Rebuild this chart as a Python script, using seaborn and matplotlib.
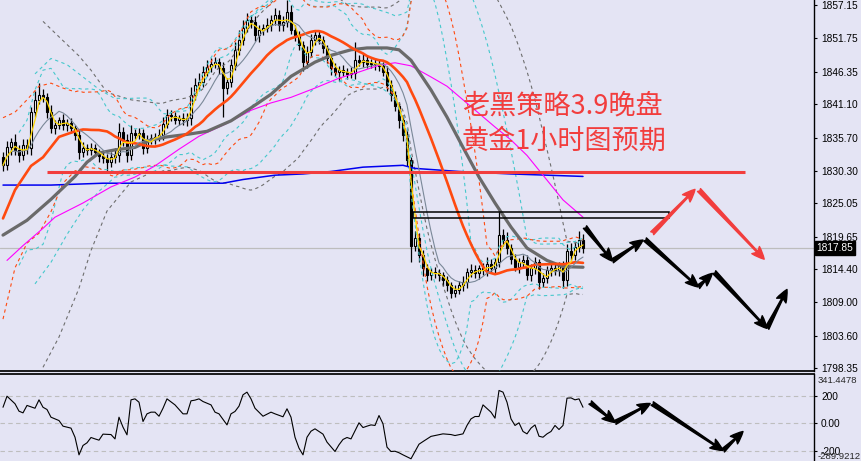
import numpy as np
import pandas as pd
import matplotlib
matplotlib.use("Agg")
import matplotlib.pyplot as plt
import matplotlib.transforms as mtransforms
from matplotlib.patches import FancyArrowPatch, Rectangle
import seaborn as sns

# ---- XAUUSD H1 candles (close, wick lengths in $) ----
closes = [
    1831.2, 1834.1, 1835.0, 1833.7, 1832.8, 1834.5, 1834.0, 1839.8, 1841.8, 1842.6,
    1842.2, 1839.8, 1837.2, 1837.7, 1838.5, 1837.7, 1838.0, 1837.2, 1836.1, 1833.3,
    1834.0, 1833.7, 1834.0, 1833.3, 1832.7, 1832.4, 1831.7, 1832.5, 1832.8, 1836.6,
    1835.3, 1832.8, 1836.4, 1836.1, 1836.4, 1834.0, 1835.3, 1835.6, 1835.8, 1836.1,
    1837.9, 1839.3, 1839.2, 1838.5, 1838.8, 1838.5, 1838.8, 1842.6, 1844.2, 1844.7,
    1846.3, 1847.1, 1847.6, 1847.9, 1847.0, 1843.7, 1844.7, 1847.4, 1849.9, 1851.5,
    1853.4, 1854.7, 1854.4, 1852.3, 1853.1, 1853.4, 1853.9, 1854.7, 1855.5, 1853.9,
    1854.4, 1856.0, 1853.1, 1852.3, 1850.7, 1847.9, 1849.5, 1851.5, 1852.3, 1851.5,
    1850.2, 1848.6, 1847.0, 1846.3, 1846.6, 1846.3, 1846.0, 1846.1, 1848.2, 1847.9,
    1848.2, 1847.6, 1847.8, 1847.6, 1847.3, 1846.3, 1844.2, 1842.6, 1840.8, 1838.5,
    1836.1, 1832.0, 1818.2, 1819.4, 1816.6, 1814.5, 1813.4, 1813.9, 1813.7, 1813.4,
    1812.6, 1811.8, 1810.6, 1811.0, 1811.8, 1812.3, 1813.9, 1814.2, 1813.7, 1814.5,
    1814.2, 1815.2, 1814.5, 1815.5, 1819.9, 1819.1, 1817.8, 1816.1, 1814.8, 1815.5,
    1815.8, 1813.4, 1814.5, 1815.5, 1812.3, 1812.9, 1814.2, 1814.5, 1814.2, 1815.0,
    1812.6, 1817.4, 1816.6, 1818.0, 1819.1, 1817.85,
]
first_open = 1832.5
upper_wick = [
    0.8, 1.0, 0.6, 1.2, 0.8, 0.9, 1.0, 0.8, 1.5, 1.9,
    0.9, 0.7, 1.1, 0.8, 0.6, 1.0, 0.7, 0.9, 0.6, 0.8,
    0.9, 0.6, 0.8, 0.7, 0.6, 0.9, 0.7, 0.8, 1.2, 1.5,
    0.8, 1.0, 1.3, 0.7, 0.9, 0.6, 0.8, 0.7, 0.6, 0.9,
    1.2, 1.0, 0.8, 0.7, 0.6, 0.9, 0.8, 1.3, 1.1, 1.4,
    0.9, 1.2, 1.0, 0.8, 0.7, 0.9, 0.6, 1.0, 1.3, 1.6,
    1.4, 1.2, 0.9, 1.0, 0.8, 0.7, 1.1, 0.9, 1.2, 0.8,
    1.0, 1.9, 1.2, 0.8, 0.7, 0.6, 1.0, 0.9, 0.8, 0.6,
    0.7, 0.5, 0.6, 0.8, 0.7, 0.9, 0.6, 1.0, 3.0, 0.8,
    1.2, 0.7, 0.6, 0.8, 0.7, 0.6, 0.9, 0.8, 0.7, 0.6,
    0.8, 0.9, 0.6, 1.2, 0.8, 0.9, 0.7, 0.6, 0.8, 0.7,
    0.6, 0.7, 0.5, 0.8, 0.6, 0.9, 0.7, 1.0, 0.8, 0.6,
    0.9, 1.1, 0.8, 0.7, 4.4, 1.0, 1.3, 0.6, 0.8, 0.7,
    0.9, 0.8, 0.7, 0.9, 0.6, 0.8, 0.7, 0.9, 0.8, 0.6,
    0.7, 1.0, 1.2, 0.8, 1.5, 0.9,
]
lower_wick = [
    1.0, 0.8, 1.2, 0.9, 1.1, 0.7, 0.9, 1.2, 0.8, 0.7,
    0.8, 0.9, 0.7, 1.0, 0.6, 0.8, 0.9, 0.7, 0.8, 1.1,
    0.7, 0.9, 0.8, 0.6, 1.0, 0.8, 1.4, 0.7, 0.9, 1.0,
    0.9, 1.1, 0.8, 0.7, 0.6, 0.9, 0.8, 0.7, 1.0, 0.6,
    0.8, 0.7, 0.9, 0.6, 0.8, 0.7, 0.9, 1.0, 0.8, 0.7,
    0.9, 0.6, 0.8, 0.7, 1.0, 4.7, 0.9, 0.8, 0.7, 0.9,
    0.8, 0.7, 1.0, 0.9, 1.2, 0.8, 0.7, 0.9, 0.8, 1.0,
    0.9, 0.8, 0.7, 0.9, 0.8, 1.4, 0.9, 0.7, 0.8, 0.6,
    0.8, 0.9, 1.2, 0.7, 1.4, 0.6, 0.8, 0.7, 0.9, 0.7,
    0.8, 0.6, 0.7, 0.9, 0.8, 0.7, 0.9, 1.0, 0.8, 1.2,
    1.0, 0.9, 2.7, 0.8, 1.0, 1.2, 0.9, 0.8, 0.7, 0.9,
    1.0, 0.9, 0.9, 0.8, 0.7, 0.9, 1.0, 0.8, 0.7, 0.9,
    0.8, 1.0, 0.7, 0.9, 0.8, 1.0, 0.9, 0.8, 0.7, 1.0,
    0.9, 0.8, 1.0, 0.9, 1.2, 0.8, 0.7, 0.9, 0.8, 1.0,
    1.3, 0.9, 0.8, 0.7, 0.9, 0.8,
]

# slow averages: their history is off-screen, so they are read at a few bars
ma20_left_bar = [0, 3, 7, 10, 14, 18]
ma20_left_val = [1822.6, 1827.2, 1831.1, 1832.5, 1835.8, 1836.7]
ma_gray_bar = [0, 6, 12, 18, 21, 24, 28, 33, 37, 41, 46, 51, 57, 62, 67, 72, 78,
               82, 87, 91, 96, 99, 102, 104, 107, 111, 115, 119, 123, 127, 131,
               136, 140, 145]
ma_gray_val = [1819.9, 1822.3, 1825.7, 1829.4, 1831.7, 1833.2, 1833.7, 1834.1,
               1835.3, 1835.8, 1836.2, 1836.7, 1838.4, 1840.5, 1842.7, 1845.6,
               1847.9, 1849.0, 1849.9, 1850.2, 1850.2, 1849.9, 1848.2, 1846.3,
               1843.4, 1839.0, 1834.1, 1829.3, 1825.1, 1821.2, 1817.8, 1815.8,
               1814.8, 1814.7]
ma_magenta_bar = [1, 5, 10, 13, 20, 27, 33, 38, 44, 49, 56, 62, 67, 72, 78, 84,
                  89, 94, 98, 102, 107, 111, 115, 119, 123, 127, 131, 136, 140, 145]
ma_magenta_val = [1815.8, 1818.2, 1821.0, 1822.8, 1825.1, 1827.7, 1829.3, 1831.1,
                  1833.8, 1835.9, 1838.0, 1840.1, 1841.3, 1842.2, 1843.7, 1845.3,
                  1846.3, 1847.4, 1847.8, 1847.3, 1845.5, 1844.0, 1841.8, 1839.6,
                  1837.4, 1835.3, 1832.8, 1828.8, 1825.6, 1822.8]
ma_blue_bar = [0, 12, 25, 40, 55, 60, 68, 75, 82, 90, 100, 103, 114, 127, 145]
ma_blue_val = [1828.0, 1828.0, 1828.3, 1828.3, 1828.3, 1828.9, 1829.6, 1829.8,
               1830.2, 1830.9, 1831.2, 1830.7, 1830.2, 1829.8, 1829.4]

# Bollinger bands before their window fills, read at a few bars
bb20_left_bar = [0, 3, 6, 9, 12, 15, 18]
bb20_left_up = [1838.9, 1839.8, 1841.8, 1844.0, 1844.5, 1843.7, 1843.1]
bb20_left_lo = [1806.3, 1814.6, 1818.6, 1820.2, 1823.7, 1828.3, 1830.3]
bb16_left_bar = [4, 6, 8, 10, 12, 14]
bb16_left_up = [1836.5, 1838.5, 1843.4, 1846.6, 1846.9, 1845.0]
bb16_left_lo = [1815.0, 1817.5, 1817.6, 1818.4, 1822.1, 1827.6]
bb30_left_bar = [8, 12, 16, 20, 24, 28]
bb30_left_up = [1846.0, 1848.5, 1847.5, 1845.5, 1843.5, 1842.0]
bb30_left_lo = [1812.0, 1815.5, 1820.0, 1824.0, 1827.0, 1829.3]
bb40_left_bar = [10, 14, 19, 22, 26, 32, 38]
bb40_left_up = [1854.5, 1852.0, 1848.9, 1846.6, 1843.0, 1841.8, 1841.3]
bb40_left_lo = [1798.5, 1803.4, 1811.3, 1817.4, 1823.8, 1828.5, 1830.3]

# CCI sub window
cci_bar = [0, 1, 3, 4, 5, 6, 8, 9, 10, 11, 12, 13, 14, 15, 17, 18, 19, 20, 21, 22,
           23, 24, 25, 27, 28, 29, 30, 31, 32, 33, 34, 35, 36, 37, 38, 39, 40, 41, 43, 45,
           46, 47, 48, 49, 50, 52, 53, 54, 56, 57, 58, 59, 60, 61, 62, 63, 64, 65, 67, 68,
           70, 71, 72, 73, 74, 75, 76, 77, 78, 79, 80, 81, 83, 84, 85, 86, 87, 89, 90, 91,
           92, 93, 94, 95, 96, 97, 98, 99, 100, 102, 103, 104, 105, 107, 108, 110, 112, 113,
           115, 116, 117, 118, 119, 120, 122, 123, 124, 125, 126, 127, 128, 129, 130, 131,
           132, 133, 134, 135, 136, 137, 138, 139, 140, 141, 142, 143, 144, 145]
cci_val = [116, 195, 141, 88, 76, 129, 109, 169, 116, 100, 45, 33, 21, -19, -33, -98,
           -224, -157, -138, -100, -110, -119, -76, -79, -110, 45, -26, -81, 169, 176,
           152, 14, 69, 81, 81, 52, 109, 176, 133, 69, 69, 162, 167, 176, 157, 133, 81,
           69, -10, 69, 86, 124, 205, 224, 176, 109, 81, 52, 81, 69, 48, 105, 45, -98,
           -176, -224, -98, -55, -38, -57, -76, -133, -200, -152, -114, -100, -110, 5,
           -29, -19, -10, -14, 57, -2, -169, -200, -198, -209, -224, -252, -200, -148,
           -129, -92, -86, -74, -79, -86, -74, -14, 33, 50, 50, 133, 81, 38, 236, 224,
           152, 33, -14, 5, -57, -74, -33, -10, -91, -98, -74, -57, -14, -43, -14, 181,
           183, 169, 176, 116]
cci_levels = [200, 0, -200]
cci_max, cci_min = 341.4478, -289.9212

price_ticks = [1857.15, 1851.75, 1846.35, 1841.10, 1835.70, 1830.30, 1825.05,
               1819.65, 1814.40, 1809.00, 1803.60, 1798.35]
last_price = 1817.85
support_price, support_bars = 1830.1, (11, 185.5)
box_bars, box_prices = (102.5, 166.5), (1822.65, 1823.65)

# hand drawn forecast arrows (bar, price) / (bar, cci)
fc_black_from = [(145.5, 1821.2), (152.3, 1815.7), (160.5, 1819.2),
                 (173.8, 1811.5), (177.8, 1813.9), (191.0, 1804.8)]
fc_black_to = [(152.3, 1815.7), (160.0, 1819.1), (173.8, 1811.5),
               (177.3, 1813.7), (191.0, 1804.8), (196.0, 1811.1)]
fc_red_from = [(162.3, 1820.2), (174.0, 1827.2)]
fc_red_to = [(173.0, 1827.3), (190.3, 1816.0)]
fc_cci_from = [(146.8, 150), (153.0, 7), (162.3, 143), (180.0, -193)]
fc_cci_to = [(153.0, 7), (161.8, 143), (180.0, -193), (185.0, -57)]

title_lines = ["老黑策略3.9晚盘", "黄金1小时图预期"]

BG = "#E4E4F4"
RED = "#F23D3D"
ORANGE = "#FF4A10"
CYAN = "#46C8CC"

sns.set_theme(style="white")
plt.rcParams["font.family"] = ["Liberation Sans", "DejaVu Sans"]

df = pd.DataFrame({"bar": np.arange(len(closes)), "close": closes})
df["open"] = df["close"].shift(1).fillna(first_open)
df["high"] = df[["open", "close"]].max(axis=1) + np.array(upper_wick)
df["low"] = df[["open", "close"]].min(axis=1) - np.array(lower_wick)
df["ma_fast"] = df["close"].rolling(3, min_periods=1).mean()
df["ma_8"] = df["close"].rolling(8, min_periods=1).mean()
df["ma20"] = df["close"].rolling(20).mean()


def bollinger(n, k=2.0):
    m = df["close"].rolling(n).mean()
    s = df["close"].rolling(n).std(ddof=0)
    return m + k * s, m - k * s


def joined(left_bar, left_val, series):
    ok = series.notna()
    return pd.DataFrame({
        "bar": list(left_bar) + list(df.loc[ok, "bar"]),
        "val": list(left_val) + list(series[ok]),
    })


fig = plt.figure(figsize=(8.61, 4.61), dpi=100)
fig.patch.set_facecolor(BG)
ax = fig.add_axes([0, 90 / 461, 814 / 861, 371 / 461])
axc = fig.add_axes([0, 0, 814 / 861, 87 / 461])

# bands (dashed)
band_specs = [
    (40, "#6E6E6E", bb40_left_bar, bb40_left_up, bb40_left_lo),
    (30, CYAN, bb30_left_bar, bb30_left_up, bb30_left_lo),
    (16, CYAN, bb16_left_bar, bb16_left_up, bb16_left_lo),
    (20, ORANGE, bb20_left_bar, bb20_left_up, bb20_left_lo),
]
for n, col, lb, lu, ll in band_specs:
    up, lo = bollinger(n)
    for vals, band in ((lu, up), (ll, lo)):
        sns.lineplot(data=joined(lb, vals, band), x="bar", y="val", ax=ax,
                     color=col, lw=0.8, linestyle=(0, (3, 3)), zorder=3)

# candles
ax.vlines(df["bar"], df["low"], df["high"], color="black", lw=0.9, zorder=2)
body_lo = df[["open", "close"]].min(axis=1)
body_h = (df["close"] - df["open"]).abs().clip(lower=0.15)
face = np.where(df["close"] > df["open"], "white", "black")
ax.bar(df["bar"], body_h, bottom=body_lo, width=0.72, color=face,
       edgecolor="black", linewidth=0.8, zorder=2.5)

# moving averages
sns.lineplot(x=ma_blue_bar, y=ma_blue_val, ax=ax, color="#0000F0", lw=1.1, zorder=4)
sns.lineplot(x=ma_magenta_bar, y=ma_magenta_val, ax=ax, color="#FF00FF", lw=0.8, zorder=4)
sns.lineplot(x=ma_gray_bar, y=ma_gray_val, ax=ax, color="#6A6A6A", lw=2.3, zorder=4)
sns.lineplot(data=joined(ma20_left_bar, ma20_left_val, df["ma20"]), x="bar", y="val",
             ax=ax, color=ORANGE, lw=1.9, zorder=4)
sns.lineplot(x=df["bar"], y=df["ma_8"], ax=ax, color="#7A8898", lw=0.8, zorder=4)
sns.lineplot(x=df["bar"], y=df["ma_fast"], ax=ax, color="#FFD700", lw=0.9, zorder=4)

# levels and drawings
ax.axhline(last_price, color="#BDBDBD", lw=0.9, zorder=1)
ax.hlines(support_price, support_bars[0], support_bars[1], color=RED, lw=2.2, zorder=5)
ax.add_patch(Rectangle((box_bars[0], box_prices[0]), box_bars[1] - box_bars[0],
                       box_prices[1] - box_prices[0], fill=False, ec="black",
                       lw=1.1, zorder=5))

style = "fancy,head_length=0.9,head_width=0.75,tail_width=0.3"
for starts, ends, col, a in [(fc_black_from, fc_black_to, "black", ax),
                             (fc_red_from, fc_red_to, RED, ax),
                             (fc_cci_from, fc_cci_to, "black", axc)]:
    for p0, p1 in zip(starts, ends):
        a.add_patch(FancyArrowPatch(p0, p1, arrowstyle=style, mutation_scale=10,
                                    color=col, shrinkA=0, shrinkB=0, zorder=6))

for k, line in enumerate(title_lines):
    ax.text(462 / 814, 1 - (105.5 + 36 * k) / 371, line, transform=ax.transAxes,
            color=RED, fontsize=19.5, ha="left", va="center",
            family=["Noto Sans CJK SC", "DejaVu Sans"], zorder=7)

# CCI
sns.lineplot(x=cci_bar, y=cci_val, ax=axc, color="black", lw=0.8, zorder=4)
for lv in cci_levels:
    axc.axhline(lv, color="#BEBEBE", lw=0.8, ls=(0, (4, 3)), zorder=1)

# axes cosmetics (after seaborn, which sets its own labels)
for a in (ax, axc):
    a.set_facecolor(BG)
    a.set_xlim(-0.75, 202.75)
    a.set_xticks([])
    a.set_xlabel("")
    a.set_ylabel("")
    a.yaxis.tick_right()
    a.tick_params(axis="y", length=2.5, width=0.8, pad=2.5, labelsize=7.3,
                  colors="black", direction="out")
    a.spines["left"].set_visible(False)
    a.spines["right"].set_color("black")
    a.spines["right"].set_linewidth(1.0)
ax.spines["top"].set_visible(False)
ax.spines["bottom"].set_color("black")
axc.spines["bottom"].set_visible(False)
axc.spines["top"].set_color("black")

ax.set_ylim(1797.9, 1857.96)
ax.set_yticks(price_ticks)
ax.set_yticklabels([f"{p:.2f}" for p in price_ticks])

tr = mtransforms.blended_transform_factory(ax.transAxes, ax.transData)
ax.text(1.003, last_price, f"{last_price:.2f}", transform=tr, color="white",
        fontsize=7.3, va="center", ha="left", clip_on=False,
        bbox=dict(boxstyle="square,pad=0.18", fc="black", ec="black"))

axc.set_ylim(-267.9, 353.6)
axc.set_yticks(cci_levels)
axc.set_yticklabels(["200", "0.00", "-200"])
trc = mtransforms.blended_transform_factory(axc.transAxes, axc.transData)
axc.text(1.004, cci_max, f"{cci_max:.4f}", transform=trc, fontsize=6.8,
         va="top", ha="left", clip_on=False)
axc.text(1.004, 0.0, f"{cci_min:.4f}", transform=axc.transAxes, fontsize=6.8,
         va="bottom", ha="left", clip_on=False)

fig.savefig("out.png", dpi=100, facecolor=BG)
